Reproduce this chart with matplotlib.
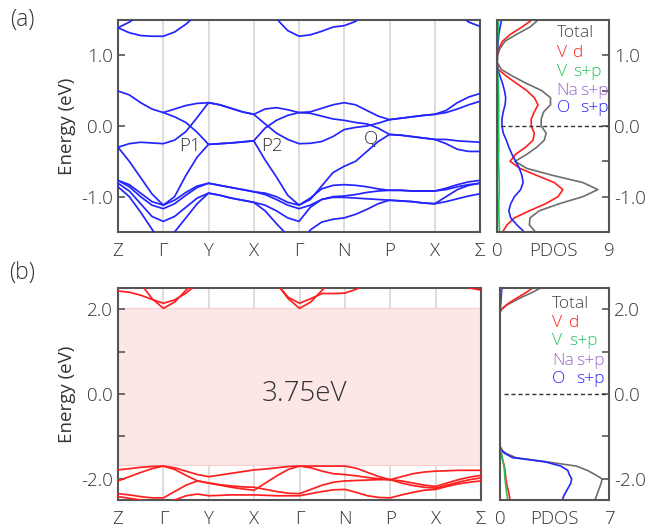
import numpy as np
import matplotlib
matplotlib.use("Agg")
import matplotlib.pyplot as plt
from matplotlib.ticker import FixedLocator

plt.rcParams['font.family'] = ['Open Sans', 'DejaVu Sans']
plt.rcParams['font.weight'] = 'light'

# ---------------- data ----------------
k_labels = ['Z', 'Γ', 'Y', 'X', 'Γ', 'N', 'P', 'X', 'Σ']
k_grid = [i * 0.25 for i in range(33)]   # path coordinate, 4 samples per segment
N = None

# panel (a): band energies (eV) along the path
a_c1 = [1.39, 1.32, 1.28, 1.27, 1.27, 1.33, 1.44, 1.58, 1.72] + [N] * 24
a_c2 = [1.39, 1.47, 1.58, 1.70] + [N] * 29
a_c3 = [N] * 13 + [1.70, 1.52, 1.35, 1.27, 1.29, 1.34, 1.40, 1.42, 1.48, 1.60] + [N] * 10
a_c4 = [N] * 29 + [1.75, 1.60, 1.47, 1.41]
a_v1 = [0.495, 0.44, 0.33, 0.24, 0.19, 0.24, 0.29, 0.32, 0.33, 0.30, 0.25, 0.20, 0.165,
        0.24, 0.26, 0.23, 0.19, 0.20, 0.25, 0.30, 0.33, 0.30, 0.22, 0.14, 0.09,
        0.11, 0.13, 0.15, 0.165, 0.22, 0.33, 0.41, 0.46]
a_v2 = [N, N, N, N, 0.19, 0.13, 0.05, -0.09, -0.26, -0.25, -0.24, -0.225, -0.21,
        -0.03, 0.08, 0.15, 0.19, 0.18, 0.14, 0.10, 0.08, 0.05, 0.03, -0.03, -0.12,
        -0.13, -0.15, -0.17, -0.19, -0.19, -0.21, -0.22, -0.23]
a_v3 = [-0.30, -0.25, -0.23, -0.24, -0.25, -0.20, -0.08, 0.12, 0.33, 0.30, 0.25, 0.20, 0.165,
        0.03, -0.10, -0.19, -0.25, -0.245, -0.22, -0.15, -0.05, -0.02, 0.0, 0.04, 0.09,
        0.11, 0.13, 0.15, 0.165, 0.19, 0.24, 0.30, 0.35]
a_v4 = [-0.30, -0.50, -0.73, -0.96, -1.12, -1.00, -0.70, -0.44, -0.26, -0.25, -0.24, -0.225, -0.21,
        -0.48, -0.72, -0.98, -1.12, -1.04, -0.85, -0.66, -0.57, -0.50, -0.36, -0.22, -0.12,
        -0.13, -0.15, -0.17, -0.19, -0.25, -0.33, -0.36, -0.36]
a_v5 = [-0.77, -0.83, -0.95, -1.07, -1.12, -1.05, -0.94, -0.85, -0.81, -0.84, -0.87, -0.90, -0.93,
        -0.95, -1.00, -1.08, -1.12, -1.02, -0.89, -0.84, -0.83, -0.84, -0.86, -0.89, -0.91,
        -0.91, -0.92, -0.92, -0.92, -0.88, -0.83, -0.79, -0.77]
a_v6 = [-0.77, -0.86, -1.00, -1.12, -1.17, -1.10, -0.98, -0.87, -0.81, -0.84, -0.87, -0.90, -0.93,
        -0.97, -1.04, -1.12, -1.17, -1.12, -1.04, -1.00, -0.99, -0.97, -0.94, -0.92, -0.91,
        -0.91, -0.92, -0.92, -0.92, -0.90, -0.86, -0.83, -0.81]
a_v7 = [-0.81, -0.92, -1.10, -1.28, -1.35, -1.28, -1.15, -1.02, -0.95, -0.98, -1.02, -1.05, -1.08,
        -1.12, -1.20, -1.30, -1.35, -1.15, -1.04, -1.01, -1.01, -1.02, -1.03, -1.04, -1.05,
        -1.06, -1.07, -1.09, -1.10, -1.07, -1.03, -0.99, -0.96]
a_v8 = [-0.86, -1.00, -1.22, -1.46, -1.70, -1.50, -1.30, -1.10, -0.95, -0.98, -1.02, -1.05, -1.08,
        -1.20, -1.38, -1.55, -1.70, -1.47, -1.36, -1.32, -1.30, -1.25, -1.18, -1.10, -1.05,
        -1.06, -1.07, -1.09, -1.10, -1.00, -0.90, -0.84, -0.81]

# panel (b): band energies (eV)
b_c1 = [2.43, 2.40, 2.33, 2.23, 2.14, 2.22, 2.38, 2.60] + [N] * 25
b_c2 = [N, N, 2.60, 2.25, 2.02, 2.17, 2.45, 2.70] + [N] * 25
b_c3 = [N] * 14 + [2.60, 2.25, 2.02, 2.17, 2.45, 2.70] + [N] * 13
b_c4 = [N] * 14 + [2.60, 2.28, 2.14, 2.25, 2.37, 2.37, 2.38, 2.47, 2.60] + [N] * 10
b_c5 = [N] * 30 + [2.60, 2.50, 2.45]
b_v1 = [-1.79, -1.76, -1.73, -1.71, -1.70, -1.74, -1.82, -1.90, -1.95, -1.91, -1.87, -1.83, -1.79,
        -1.77, -1.74, -1.71, -1.70, -1.70, -1.70, -1.70, -1.70, -1.75, -1.85, -1.95, -2.02,
        -1.95, -1.88, -1.84, -1.82, -1.81, -1.80, -1.80, -1.80]
b_v2 = [-2.05, -1.95, -1.85, -1.76, -1.70, -1.78, -1.92, -2.05, -2.10, -2.15, -2.20, -2.24, -2.27,
        -2.10, -1.93, -1.78, -1.70, -1.74, -1.82, -1.88, -1.90, -1.93, -1.97, -2.00, -2.02,
        -2.05, -2.10, -2.15, -2.18, -2.10, -2.02, -1.96, -1.92]
b_v3 = [-2.35, -2.38, -2.42, -2.45, -2.45, -2.30, -2.15, -2.05, -2.10, -2.14, -2.17, -2.19, -2.20,
        -2.25, -2.30, -2.34, -2.35, -2.25, -2.15, -2.08, -2.05, -2.04, -2.03, -2.02, -2.02,
        -2.10, -2.16, -2.20, -2.22, -2.15, -2.08, -2.02, -1.98]
b_v4 = [-2.42, -2.46, -2.50, -2.55, -2.58, -2.50, -2.40, -2.36, -2.40, -2.39, -2.38, -2.38, -2.38,
        -2.39, -2.40, -2.40, -2.40, -2.35, -2.30, -2.26, -2.25, -2.32, -2.40, -2.44, -2.45,
        -2.38, -2.32, -2.27, -2.25, -2.18, -2.12, -2.08, -2.05]

# PDOS (a)
pa_energy = [1.5, 1.4, 1.3, 1.2, 1.1, 1.0, 0.9, 0.8, 0.7, 0.6, 0.5, 0.4, 0.3, 0.2, 0.1, 0.0,
             -0.1, -0.2, -0.3, -0.4, -0.5, -0.6, -0.7, -0.8, -0.9, -1.0, -1.1, -1.2, -1.3, -1.4, -1.5]
pa_total = [3.3, 2.65, 1.6, 0.65, 0.24, 0.05, 0.02, 0.35, 1.3, 2.4, 3.6, 4.3, 4.3, 3.75, 3.55, 3.55,
            3.95, 3.8, 3.2, 2.4, 1.45, 2.4, 4.5, 6.9, 8.1, 6.9, 5.0, 3.4, 2.65, 2.6, 3.1]
pa_vd = [2.8, 2.0, 1.1, 0.45, 0.15, 0.03, 0.01, 0.1, 0.8, 1.6, 2.4, 3.0, 3.3, 3.0, 2.75, 2.75,
         3.0, 2.9, 2.3, 1.5, 1.05, 1.85, 3.2, 4.6, 5.3, 4.9, 3.9, 2.6, 1.4, 0.8, 0.45]
pa_vsp = [0.12, 0.1, 0.08, 0.05, 0.03, 0.02, 0.02, 0.04, 0.08, 0.1, 0.12, 0.13, 0.14, 0.13, 0.12, 0.12,
          0.13, 0.14, 0.14, 0.13, 0.12, 0.14, 0.16, 0.18, 0.18, 0.16, 0.14, 0.14, 0.16, 0.18, 0.2]
pa_nasp = [0.02] * 31
pa_osp = [0.36, 0.25, 0.15, 0.1, 0.05, 0.02, 0.02, 0.05, 0.25, 0.45, 0.6, 0.7, 0.65, 0.5, 0.4, 0.4,
          0.5, 0.75, 0.95, 1.2, 1.5, 1.8, 2.0, 2.1, 1.9, 1.4, 1.1, 0.95, 1.1, 1.6, 2.2]

# PDOS (b)
pb_energy = [2.5, 2.4, 2.3, 2.2, 2.1, 2.0, 1.95, 1.9, 1.0, 0.0, -1.0, -1.25, -1.3, -1.35, -1.4,
             -1.5, -1.6, -1.7, -1.8, -1.9, -2.0, -2.1, -2.2, -2.3, -2.4, -2.5]
pb_total = [2.6, 2.1, 1.5, 0.95, 0.45, 0.12, 0.02, 0.0, 0.0, 0.0, 0.0, 0.02, 0.1, 0.2, 0.4,
            1.0, 3.0, 4.9, 5.6, 6.1, 6.55, 6.5, 6.4, 6.3, 6.2, 6.1]
pb_vd = [2.1, 1.7, 1.25, 0.8, 0.4, 0.1, 0.02, 0.0, 0.0, 0.0, 0.0, 0.01, 0.03, 0.05, 0.08,
         0.12, 0.2, 0.28, 0.32, 0.35, 0.38, 0.42, 0.48, 0.55, 0.6, 0.65]
pb_vsp = [0.05, 0.04, 0.03, 0.02, 0.01, 0.0, 0.0, 0.0, 0.0, 0.0, 0.0, 0.01, 0.03, 0.06, 0.1,
          0.15, 0.2, 0.25, 0.28, 0.3, 0.32, 0.35, 0.38, 0.42, 0.46, 0.5]
pb_nasp = [0.01] * 26
pb_osp = [0.12, 0.1, 0.08, 0.06, 0.04, 0.02, 0.01, 0.0, 0.0, 0.0, 0.0, 0.01, 0.05, 0.15, 0.3,
          0.8, 2.9, 3.9, 4.35, 4.45, 4.6, 4.55, 4.4, 4.25, 4.1, 4.0]

gap_bottom, gap_top = -1.68, 2.03
gap_text = '3.75eV'

# ---------------- styling ----------------
spine_c = '#555555'
grid_c = '#dadada'
blue = '#2424ff'
red = '#ff1f1f'
c_total = '#6e6e6e'
c_vsp = '#22c35a'
c_na = '#9a66cc'
FS = 13.5

fig = plt.figure(figsize=(6.57, 5.31), dpi=100)


def fpos(l, t, r, b):
    W, H = 657.0, 531.0
    return [l / W, 1 - b / H, (r - l) / W, (b - t) / H]


def style(ax):
    for s in ax.spines.values():
        s.set_color(spine_c)
        s.set_linewidth(1.5)
    ax.tick_params(direction='in', length=5, width=1.2, color=spine_c, labelsize=FS,
                   labelcolor='#333333')
    ax.tick_params(which='minor', direction='in', length=5, width=1.2, color=spine_c)


def band_panel(rect, bands, color, ylim, major, minor):
    ax = fig.add_axes(rect)
    style(ax)
    for x in range(1, 8):
        ax.axvline(x, color=grid_c, lw=1.3, zorder=0)
    kg = np.array(k_grid)
    for b in bands:
        y = np.array([np.nan if v is None else v for v in b], dtype=float)
        ax.plot(kg, y, color=color, lw=1.25, zorder=3, solid_joinstyle='round')
    ax.set_xlim(0, 8)
    ax.set_ylim(*ylim)
    ax.set_xticks(range(9))
    ax.set_xticklabels(k_labels)
    ax.tick_params(axis='x', length=0, pad=7)
    ax.yaxis.set_major_locator(FixedLocator(major))
    ax.set_yticklabels(['%.1f' % v for v in major])
    ax.yaxis.set_minor_locator(FixedLocator(minor))
    ax.set_ylabel('Energy (eV)', fontsize=FS, color='#333333', labelpad=4)
    return ax


def pdos_panel(rect, energy, curves, xmax, ylim, major, minor, legend_pos):
    ax = fig.add_axes(rect)
    style(ax)
    e = np.array(energy)
    for vals, c, lw in curves:
        ax.plot(vals, e, color=c, lw=lw)
    ax.axhline(0, color='#333333', lw=1.0, ls=(0, (3, 2)), xmin=0.04)
    ax.set_xlim(0, xmax)
    ax.set_ylim(*ylim)
    ax.set_xticks([0, xmax / 2, xmax])
    ax.set_xticklabels(['0', 'PDOS', str(xmax)])
    ax.tick_params(axis='x', length=0, pad=7)
    ax.yaxis.tick_right()
    ax.yaxis.set_major_locator(FixedLocator(major))
    ax.set_yticklabels(['%.1f' % v for v in major])
    ax.yaxis.set_minor_locator(FixedLocator(minor))
    x1, x2v, x2o, ys = legend_pos
    lfs = 12.5
    ax.text(x1, ys[0], 'Total', color='#444444', fontsize=lfs, va='center')
    ax.text(x1, ys[1], 'V', color=red, fontsize=lfs, va='center')
    ax.text(x2v, ys[1], 'd', color=red, fontsize=lfs, va='center')
    ax.text(x1, ys[2], 'V', color=c_vsp, fontsize=lfs, va='center')
    ax.text(x2v, ys[2], 's+p', color=c_vsp, fontsize=lfs, va='center')
    ax.text(x1, ys[3], 'Na', color=c_na, fontsize=lfs, va='center')
    ax.text(x2o, ys[3], 's+p', color=c_na, fontsize=lfs, va='center')
    ax.text(x1, ys[4], 'O', color=blue, fontsize=lfs, va='center')
    ax.text(x2o, ys[4], 's+p', color=blue, fontsize=lfs, va='center')
    return ax


# (a)
bands_a = [a_c1, a_c2, a_c3, a_c4, a_v1, a_v2, a_v3, a_v4, a_v5, a_v6, a_v7, a_v8]
axa = band_panel(fpos(118, 20, 480, 232), bands_a, blue, (-1.5, 1.5), [-1.0, 0.0, 1.0], [])
axa.text(1.6, -0.28, 'P1', fontsize=FS, color='#333333', ha='center', va='center', zorder=5)
axa.text(3.41, -0.28, 'P2', fontsize=FS, color='#333333', ha='center', va='center', zorder=5)
axa.text(5.6, -0.18, 'Q', fontsize=FS, color='#333333', ha='center', va='center', zorder=5)

pdos_panel(fpos(497, 20, 609, 232), pa_energy,
           [(pa_total, c_total, 1.2), (pa_vd, red, 1.2), (pa_osp, blue, 1.2),
            (pa_nasp, c_na, 1.2), (pa_vsp, c_vsp, 1.2)],
           9, (-1.5, 1.5), [-1.0, 0.0, 1.0], [-0.5, 0.5],
           (4.8, 6.1, 6.67, [1.31, 1.04, 0.77, 0.50, 0.25]))

# (b)
bands_b = [b_c1, b_c2, b_c3, b_c4, b_c5, b_v1, b_v2, b_v3, b_v4]
axb = band_panel(fpos(118, 288, 481, 500), bands_b, red, (-2.5, 2.5), [-2.0, 0.0, 2.0], [-1.0, 1.0])
axb.axhspan(gap_bottom, gap_top, facecolor='#fde6e6', edgecolor='#f9d0d0', lw=0.8, zorder=1)
axb.text(4.1, 0.0, gap_text, fontsize=20, color='#333333', ha='center', va='center', zorder=5)

pdos_panel(fpos(500, 288, 609, 500), pb_energy,
           [(pb_total, c_total, 1.2), (pb_vd, red, 1.2), (pb_osp, blue, 1.2),
            (pb_nasp, c_na, 1.2), (pb_vsp, c_vsp, 1.2)],
           7, (-2.5, 2.5), [-2.0, 0.0, 2.0], [-1.0, 1.0],
           (3.36, 4.45, 4.88, [2.12, 1.67, 1.25, 0.79, 0.35]))

fig.text(22 / 657, 1 - 20 / 531, '(a)', fontsize=16.5, color='#333333', ha='center', va='center')
fig.text(22 / 657, 1 - 273 / 531, '(b)', fontsize=16.5, color='#333333', ha='center', va='center')

fig.savefig('out.png', dpi=100)
